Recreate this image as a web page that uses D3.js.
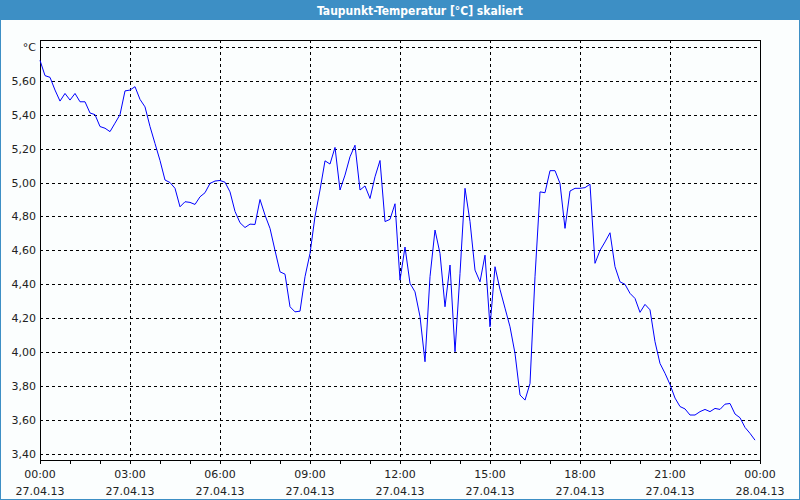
<!DOCTYPE html>
<html>
<head>
<meta charset="utf-8">
<script src="https://cdn.jsdelivr.net/npm/d3@7"></script>
<style>
  body { margin: 0; background: #fbfefe; }
  svg { display: block; font-family: "DejaVu Sans", sans-serif; }
</style>
</head>
<body>
<svg id="chart" width="800" height="500"></svg>
<script>
const title = "Taupunkt-Temperatur [°C] skaliert"
const unitLabel = "°C"
const startTime = new Date(2013, 3, 27, 0, 0)
const endTime = new Date(2013, 3, 28, 0, 0)
const stepMinutes = 10

// dew point every 10 minutes from 00:00
const dewPoint = [
  5.72, 5.63, 5.62, 5.545, 5.48, 5.525, 5.486, 5.525, 5.476, 5.476,
  5.41, 5.40, 5.33, 5.32, 5.30, 5.35, 5.40, 5.54, 5.545, 5.565,
  5.49, 5.446, 5.33, 5.23, 5.13, 5.015, 5.00, 4.966, 4.857, 4.887,
  4.883, 4.871, 4.916, 4.94, 4.995, 5.009, 5.012, 5.002, 4.945, 4.83,
  4.763, 4.735, 4.755, 4.753, 4.90, 4.808, 4.73, 4.60, 4.474, 4.46,
  4.268, 4.238, 4.242, 4.445, 4.582, 4.80, 4.956, 5.128, 5.109, 5.207,
  4.956, 5.044, 5.152, 5.22, 4.956, 4.98, 4.906, 5.034, 5.13, 4.77,
  4.783, 4.875, 4.425, 4.62, 4.406, 4.356, 4.21, 3.944, 4.445, 4.72,
  4.582, 4.268, 4.514, 4.003, 4.464, 4.966, 4.77, 4.484, 4.415, 4.572,
  4.15, 4.504, 4.37, 4.26, 4.15, 3.993, 3.748, 3.718, 3.816, 4.445,
  4.945, 4.94, 5.07, 5.07, 4.995, 4.73, 4.95, 4.966, 4.966, 4.97,
  4.99, 4.524, 4.60, 4.65, 4.704, 4.504, 4.415, 4.40, 4.347, 4.317,
  4.235, 4.282, 4.25, 4.062, 3.934, 3.876, 3.81, 3.73, 3.68, 3.666,
  3.63, 3.63, 3.65, 3.663, 3.65, 3.669, 3.663, 3.694, 3.698, 3.636,
  3.614, 3.557, 3.522, 3.482
]

const yTicks = [3.4, 3.6, 3.8, 4.0, 4.2, 4.4, 4.6, 4.8, 5.0, 5.2, 5.4, 5.6, 5.8]

const data = dewPoint.map((v, i) => ({
  time: new Date(startTime.getTime() + i * stepMinutes * 60000),
  value: v
}))

const svg = d3.select('#chart')
const width = 800
const height = 500
const plot = { left: 40, right: 760, top: 40, bottom: 460 }

// window frame and title bar
svg.append('rect')
  .attr('x', 0.5).attr('y', 0.5)
  .attr('width', width - 1).attr('height', height - 1)
  .attr('fill', '#fbfefe')
  .attr('stroke', '#3d8fc5')

svg.append('rect')
  .attr('x', 0).attr('y', 0)
  .attr('width', width).attr('height', 20)
  .attr('fill', '#3d8fc5')

svg.append('text')
  .attr('x', 420).attr('y', 15)
  .attr('text-anchor', 'middle')
  .attr('fill', 'white')
  .attr('font-family', '"DejaVu Sans Condensed", "DejaVu Sans", sans-serif')
  .attr('font-weight', 'bold')
  .attr('font-size', 12)
  .text(title)

const xScale = d3.scaleTime()
  .domain([startTime, endTime])
  .range([plot.left, plot.right])

const yScale = d3.scaleLinear()
  .domain([3.365, 5.84])
  .range([plot.bottom, plot.top])

const majorTicks = d3.timeHour.every(3).range(startTime, d3.timeMinute.offset(endTime, 1))
const hourTicks = d3.timeHour.every(1).range(startTime, d3.timeMinute.offset(endTime, 1))

// grid
const grid = svg.append('g')
  .attr('stroke', 'black')
  .attr('stroke-dasharray', '3,3')
  .attr('shape-rendering', 'crispEdges')

grid.selectAll('.hgrid')
  .data(yTicks)
  .join('line')
  .attr('x1', plot.left).attr('x2', plot.right)
  .attr('y1', d => Math.round(yScale(d)) + 0.5)
  .attr('y2', d => Math.round(yScale(d)) + 0.5)

grid.selectAll('.vgrid')
  .data(majorTicks.slice(1, -1))
  .join('line')
  .attr('x1', d => Math.round(xScale(d)) + 0.5)
  .attr('x2', d => Math.round(xScale(d)) + 0.5)
  .attr('y1', plot.top).attr('y2', plot.bottom)

// plot border
svg.append('rect')
  .attr('x', plot.left + 0.5).attr('y', plot.top + 0.5)
  .attr('width', plot.right - plot.left).attr('height', plot.bottom - plot.top)
  .attr('fill', 'none')
  .attr('stroke', 'black')
  .attr('shape-rendering', 'crispEdges')

// hour ticks under the axis
svg.append('g')
  .selectAll('line')
  .data(hourTicks)
  .join('line')
  .attr('x1', d => Math.round(xScale(d)) + 0.5)
  .attr('x2', d => Math.round(xScale(d)) + 0.5)
  .attr('y1', plot.bottom).attr('y2', plot.bottom + 4)
  .attr('stroke', 'black')
  .attr('shape-rendering', 'crispEdges')

// y labels
const fmtY = d3.format('.2f')
svg.append('g')
  .selectAll('text')
  .data(yTicks)
  .join('text')
  .attr('x', 36)
  .attr('y', d => yScale(d) + 4)
  .attr('text-anchor', 'end')
  .attr('font-size', 11)
  .attr('fill', '#222')
  .text(d => d === 5.8 ? unitLabel : fmtY(d).replace('.', ','))

// x labels
const fmtTime = d3.timeFormat('%H:%M')
const fmtDate = d3.timeFormat('%d.%m.%y')
const xLabels = svg.append('g')
  .selectAll('g')
  .data(majorTicks)
  .join('g')
  .attr('transform', d => `translate(${xScale(d)},0)`)
  .attr('text-anchor', 'middle')
  .attr('font-size', 11)
  .attr('fill', '#222')

xLabels.append('text').attr('y', 478).text(fmtTime)
xLabels.append('text').attr('y', 495).text(fmtDate)

// line
const line = d3.line()
  .x(d => xScale(d.time))
  .y(d => yScale(d.value))

svg.append('path')
  .datum(data)
  .attr('d', line)
  .attr('fill', 'none')
  .attr('stroke', '#0000ff')
  .attr('stroke-width', 1)
</script>
</body>
</html>
